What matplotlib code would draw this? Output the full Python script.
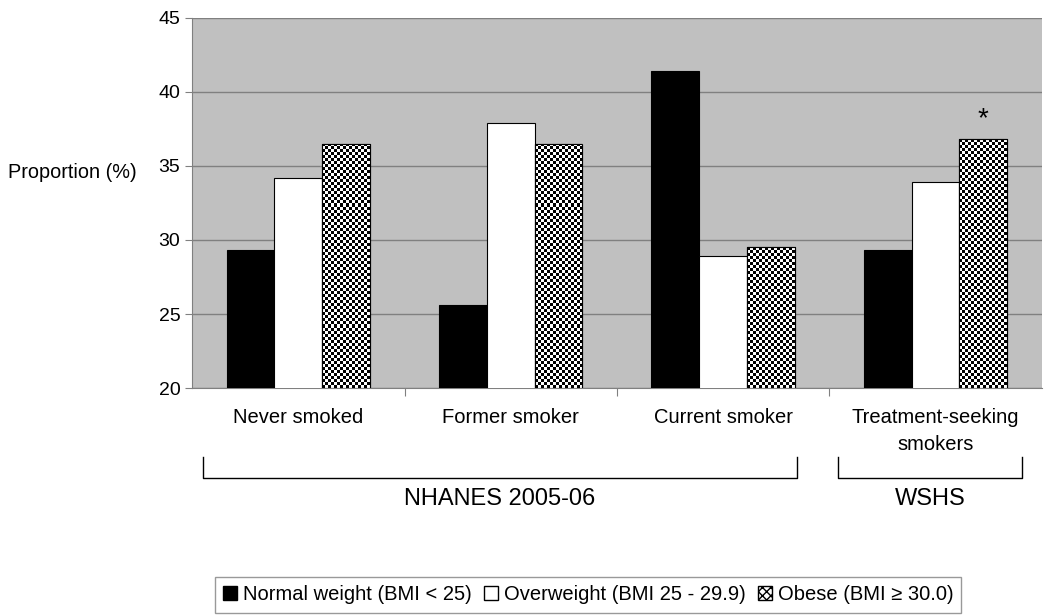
import numpy as np
import matplotlib.pyplot as plt
from matplotlib.patches import Patch

plt.rcParams['font.family'] = ['Liberation Sans', 'DejaVu Sans']

categories = ["Never smoked", "Former smoker", "Current smoker", "Treatment-seeking\nsmokers"]
normal = [29.3, 25.6, 41.4, 29.3]
overweight = [34.2, 37.9, 28.9, 33.9]
obese = [36.5, 36.5, 29.5, 36.8]
series_labels = ["Normal weight (BMI < 25)", "Overweight (BMI 25 - 29.9)", "Obese (BMI \u2265 30.0)"]

fig = plt.figure(figsize=(10.5, 6.15), dpi=100)
ax = fig.add_axes([0.183, 0.369, 0.809, 0.602])
ax.set_facecolor('#c0c0c0')

x = np.arange(len(categories)) + 0.5
w = 0.225

ax.bar(x - w, normal, w, color='black', edgecolor='black', linewidth=0.8, zorder=3)
ax.bar(x, overweight, w, color='white', edgecolor='black', linewidth=0.8, zorder=3)
ob_bars = ax.bar(x + w, obese, w, color='white', edgecolor='black', linewidth=0.8, zorder=3)

ax.set_xlim(0, 4)
ax.set_ylim(20, 45)

# checkerboard fill for the obese bars
for b in ob_bars:
    x0, w0 = b.get_x(), b.get_width()
    top = b.get_height()
    nx_ = 16
    ny_ = int(round((top - 20) * 14.8 / 3))
    board = np.indices((ny_, nx_)).sum(axis=0) % 2
    im = ax.imshow(board, cmap='gray', extent=(x0, x0 + w0, 20, top), aspect='auto',
                   interpolation='nearest', zorder=4)
    im.set_clip_path(b)
    ax.add_patch(plt.Rectangle((x0, 20), w0, top - 20, fill=False, edgecolor='black',
                               linewidth=0.8, zorder=5))

ax.annotate("*", (x[3] + w, obese[3]), xytext=(0, 5), textcoords='offset points',
            ha='center', va='bottom', fontsize=20)

ax.set_yticks(np.arange(20, 46, 5))
ax.yaxis.grid(True, color='#808080', linewidth=1, zorder=1)
ax.set_axisbelow(True)
ax.set_xticks([1, 2, 3])
ax.set_xticklabels([])
ax.tick_params(axis='x', length=6, color='#808080', direction='out')
ax.tick_params(axis='y', length=5, color='#808080', labelsize=14)
for s in ['top', 'right']:
    ax.spines[s].set_visible(False)
for s in ['left', 'bottom']:
    ax.spines[s].set_color('#808080')

fig.text(0.008, 0.72, "Proportion (%)", fontsize=14.3, va='center', ha='left')

for xi, lab in zip(x, categories):
    ax.text(xi, -0.055, lab, transform=ax.get_xaxis_transform(), ha='center', va='top',
            fontsize=14.5, linespacing=1.5)

# group brackets
def bracket(x0, x1, label):
    t = ax.get_xaxis_transform()
    ax.plot([x0, x0, x1, x1], [-0.186, -0.243, -0.243, -0.186], transform=t, color='black',
            linewidth=1, clip_on=False)
    ax.text((x0 + x1) / 2, -0.3, label, transform=t, ha='center', va='center', fontsize=17)

bracket(0.052, 2.847, "NHANES 2005-06")
bracket(3.04, 3.91, "WSHS")

handles = [Patch(facecolor='black', edgecolor='black'),
           Patch(facecolor='white', edgecolor='black'),
           Patch(facecolor='white', edgecolor='black', hatch='xxxx')]
leg = fig.legend(handles, series_labels, loc='lower center', bbox_to_anchor=(0.56, 0.004), ncol=3,
                 fontsize=14.5, frameon=True, fancybox=False, handlelength=0.7, handleheight=0.7,
                 handletextpad=0.3, columnspacing=0.6, borderpad=0.4, borderaxespad=0)
leg.get_frame().set_edgecolor('#808080')

fig.savefig("out.png", dpi=100)
